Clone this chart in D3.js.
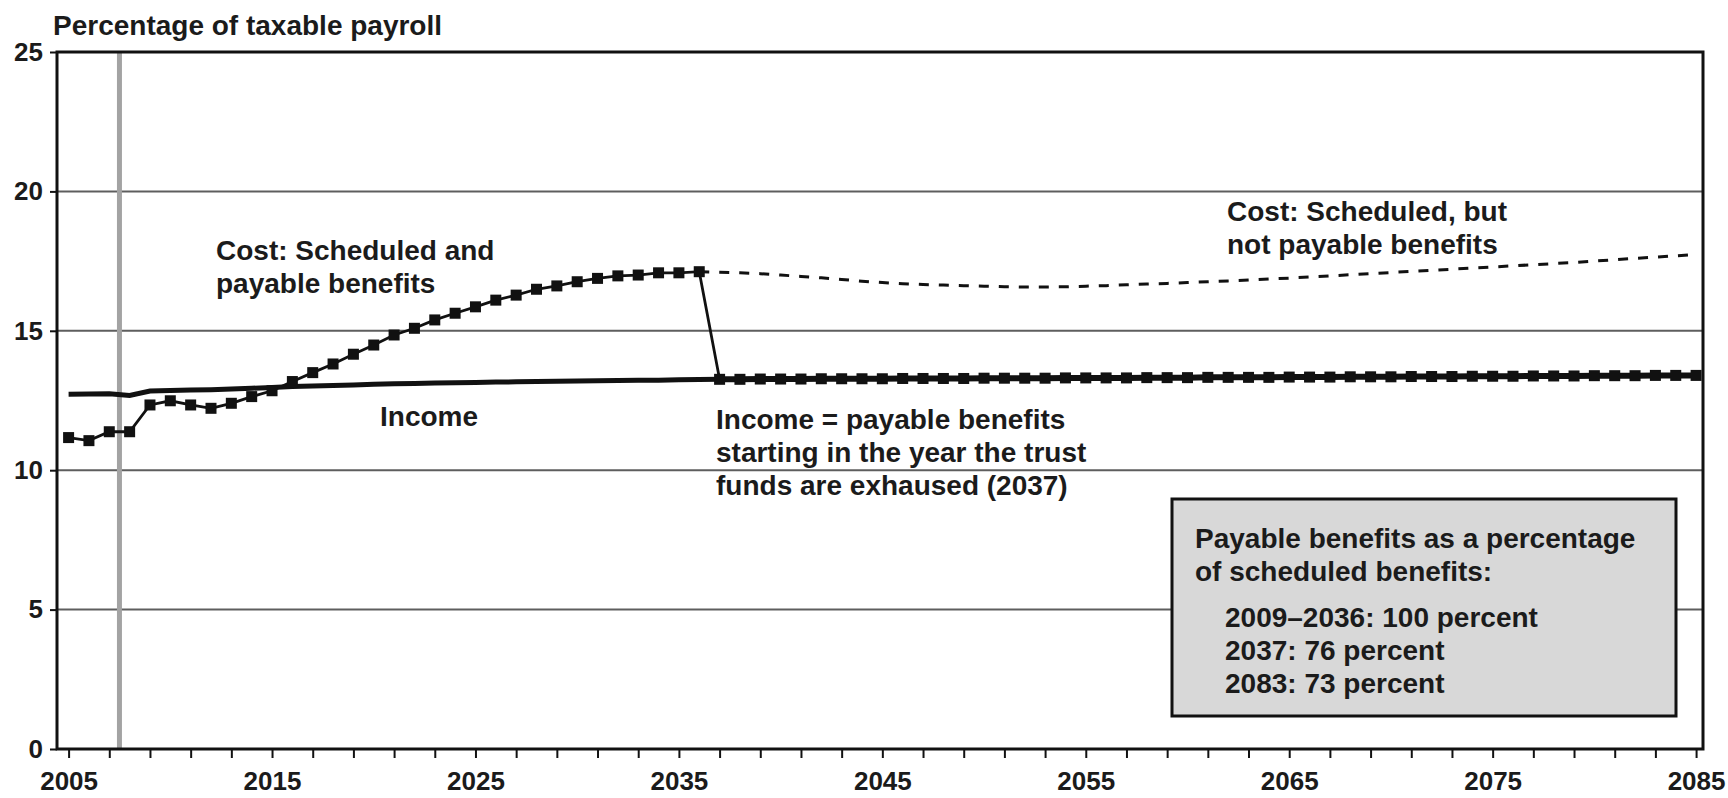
<!DOCTYPE html>
<html>
<head>
<meta charset="utf-8">
<script src="https://cdn.jsdelivr.net/npm/d3@7"></script>
<style>
body { margin: 0; background: #fff; }
svg text { font-family: "Liberation Sans", Arial, Helvetica, sans-serif; font-weight: bold; fill: #1b1b1b; }
</style>
</head>
<body>
<svg id="chart" width="1728" height="798"></svg>
<script>
// Cost: scheduled and payable benefits, 2005-2036
const costStart = 2005
const costPayable = [11.17, 11.06, 11.38, 11.38, 12.34, 12.49, 12.34, 12.22, 12.40, 12.64,
    12.85, 13.18, 13.50, 13.81, 14.16, 14.49, 14.85, 15.09, 15.39, 15.63,
    15.86, 16.10, 16.28, 16.49, 16.61, 16.76, 16.88, 16.97, 17.00, 17.08,
    17.08, 17.12]

// Income, 2005-2037
const incomeStart = 2005
const income = [12.72, 12.73, 12.74, 12.68, 12.84, 12.86, 12.88, 12.89, 12.91, 12.94,
    12.97, 13.00, 13.02, 13.04, 13.06, 13.08, 13.10, 13.11, 13.13, 13.14,
    13.15, 13.16, 13.17, 13.18, 13.19, 13.20, 13.21, 13.22, 13.23, 13.23,
    13.24, 13.25, 13.26]

// Income = payable benefits, 2037-2085
const payableStart = 2037
const payableAfter = [13.26, 13.26, 13.27, 13.27, 13.27, 13.28, 13.28, 13.28, 13.28, 13.29,
    13.29, 13.29, 13.29, 13.30, 13.30, 13.30, 13.30, 13.31, 13.31, 13.31,
    13.31, 13.32, 13.32, 13.32, 13.33, 13.33, 13.33, 13.33, 13.34, 13.34,
    13.34, 13.35, 13.35, 13.35, 13.36, 13.36, 13.36, 13.37, 13.37, 13.37,
    13.38, 13.38, 13.38, 13.39, 13.39, 13.39, 13.40, 13.40, 13.40]

// Cost: scheduled, but not payable benefits, 2036-2085
const scheduledStart = 2036
const costScheduled = [17.12, 17.10, 17.08, 17.05, 17.00, 16.95, 16.90, 16.84, 16.78, 16.73,
    16.69, 16.66, 16.64, 16.62, 16.60, 16.58, 16.57, 16.57, 16.58, 16.60,
    16.62, 16.65, 16.68, 16.70, 16.73, 16.76, 16.79, 16.82, 16.86, 16.89,
    16.93, 16.97, 17.01, 17.05, 17.09, 17.13, 17.17, 17.21, 17.25, 17.29,
    17.33, 17.37, 17.41, 17.45, 17.50, 17.55, 17.60, 17.64, 17.69, 17.74]

const xLabelYears = [2005, 2015, 2025, 2035, 2045, 2055, 2065, 2075, 2085]
const yTicks = [0, 5, 10, 15, 20, 25]
const historyEnd = 2007.5

const boxLines = ["Payable benefits as a percentage", "of scheduled benefits:"]
const boxItems = ["2009\u20132036: 100 percent", "2037: 76 percent", "2083: 73 percent"]

const svg = d3.select("#chart")
const plot = {left: 57, right: 1703, top: 52, bottom: 749}
const fontSize = 28

const toPoints = (start, values) => values.map((v, i) => ({year: start + i, value: v}))

let xScale = d3.scaleLinear()
    .domain([2004.43, 2085.34])
    .range([plot.left, plot.right])

let yScale = d3.scaleLinear()
    .domain([0, 25])
    .range([plot.bottom, plot.top])

svg.append("rect")
    .attr("width", 1728).attr("height", 798).attr("fill", "#fff")

// gridlines
svg.append("g")
    .selectAll("line")
    .data(yTicks.filter(d => d > 0 && d < 25))
    .enter()
    .append("line")
    .attr("x1", plot.left).attr("x2", plot.right)
    .attr("y1", d => yScale(d)).attr("y2", d => yScale(d))
    .attr("stroke", "#5e5e5e")
    .attr("stroke-width", 2)

// grey marker between history and projections
svg.append("line")
    .attr("x1", xScale(historyEnd)).attr("x2", xScale(historyEnd))
    .attr("y1", plot.top).attr("y2", plot.bottom)
    .attr("stroke", "#a3a3a3")
    .attr("stroke-width", 5)

// info box
svg.append("rect")
    .attr("x", 1172).attr("y", 499)
    .attr("width", 504).attr("height", 217)
    .attr("fill", "#d8d8d8")
    .attr("stroke", "#111")
    .attr("stroke-width", 3)

svg.append("g")
    .selectAll("text")
    .data(boxLines)
    .enter()
    .append("text")
    .attr("x", 1195)
    .attr("y", (d, i) => 548 + i * 33)
    .attr("font-size", fontSize)
    .text(d => d)

svg.append("g")
    .selectAll("text")
    .data(boxItems)
    .enter()
    .append("text")
    .attr("x", 1225)
    .attr("y", (d, i) => 627 + i * 33)
    .attr("font-size", fontSize)
    .text(d => d)

// frame
svg.append("rect")
    .attr("x", plot.left).attr("y", plot.top)
    .attr("width", plot.right - plot.left)
    .attr("height", plot.bottom - plot.top)
    .attr("fill", "none")
    .attr("stroke", "#111")
    .attr("stroke-width", 3)

// axes
let xAxis = svg.append("g")
    .attr("transform", `translate(0, ${plot.bottom})`)
    .call(d3.axisBottom(xScale)
        .tickValues(d3.range(2005, 2086, 2))
        .tickSize(9)
        .tickPadding(14)
        .tickFormat(d => xLabelYears.includes(d) ? d : ""))
xAxis.select(".domain").remove()
xAxis.selectAll("line").attr("stroke", "#111").attr("stroke-width", 2)
xAxis.selectAll("text").attr("font-size", 26).attr("fill", "#1b1b1b")

let yAxis = svg.append("g")
    .attr("transform", `translate(${plot.left}, 0)`)
    .call(d3.axisLeft(yScale)
        .tickValues(yTicks)
        .tickSize(7)
        .tickPadding(7))
yAxis.select(".domain").remove()
yAxis.selectAll("line").attr("stroke", "#111").attr("stroke-width", 2)
yAxis.selectAll("text").attr("font-size", 26).attr("fill", "#1b1b1b")

const line = d3.line()
    .x(d => xScale(d.year))
    .y(d => yScale(d.value))

const costPts = toPoints(costStart, costPayable)
const incomePts = toPoints(incomeStart, income)
const payablePts = toPoints(payableStart, payableAfter)
const schedPts = toPoints(scheduledStart, costScheduled)

// scheduled, not payable (dashed)
svg.append("path")
    .datum(schedPts)
    .attr("d", line)
    .attr("fill", "none")
    .attr("stroke", "#111")
    .attr("stroke-width", 3)
    .attr("stroke-dasharray", "10,10")

// income
svg.append("path")
    .datum(incomePts)
    .attr("d", line)
    .attr("fill", "none")
    .attr("stroke", "#111")
    .attr("stroke-width", 5)

// payable after trust fund exhaustion
svg.append("path")
    .datum(payablePts)
    .attr("d", line)
    .attr("fill", "none")
    .attr("stroke", "#111")
    .attr("stroke-width", 6)

// cost line incl. the drop in 2037
svg.append("path")
    .datum(costPts.concat([payablePts[0]]))
    .attr("d", line)
    .attr("fill", "none")
    .attr("stroke", "#111")
    .attr("stroke-width", 2.8)

// square markers
svg.append("g")
    .selectAll("rect.marker")
    .data(costPts.concat(payablePts))
    .enter()
    .append("rect")
    .classed("marker", true)
    .attr("x", d => xScale(d.year) - 5.5)
    .attr("y", d => yScale(d.value) - 5.5)
    .attr("width", 11)
    .attr("height", 11)
    .attr("fill", "#111")

// annotations
const notes = [
    {x: 216, y: 260, lines: ["Cost: Scheduled and", "payable benefits"]},
    {x: 380, y: 426, lines: ["Income"]},
    {x: 716, y: 429, lines: ["Income = payable benefits", "starting in the year the trust", "funds are exhaused (2037)"]},
    {x: 1227, y: 221, lines: ["Cost: Scheduled, but", "not payable benefits"]}
]
notes.forEach(n => {
    svg.append("g")
        .selectAll("text")
        .data(n.lines)
        .enter()
        .append("text")
        .attr("x", n.x)
        .attr("y", (d, i) => n.y + i * 33)
        .attr("font-size", fontSize)
        .text(d => d)
})

svg.append("text")
    .attr("x", 53)
    .attr("y", 35)
    .attr("font-size", fontSize)
    .text("Percentage of taxable payroll")
</script>
</body>
</html>
